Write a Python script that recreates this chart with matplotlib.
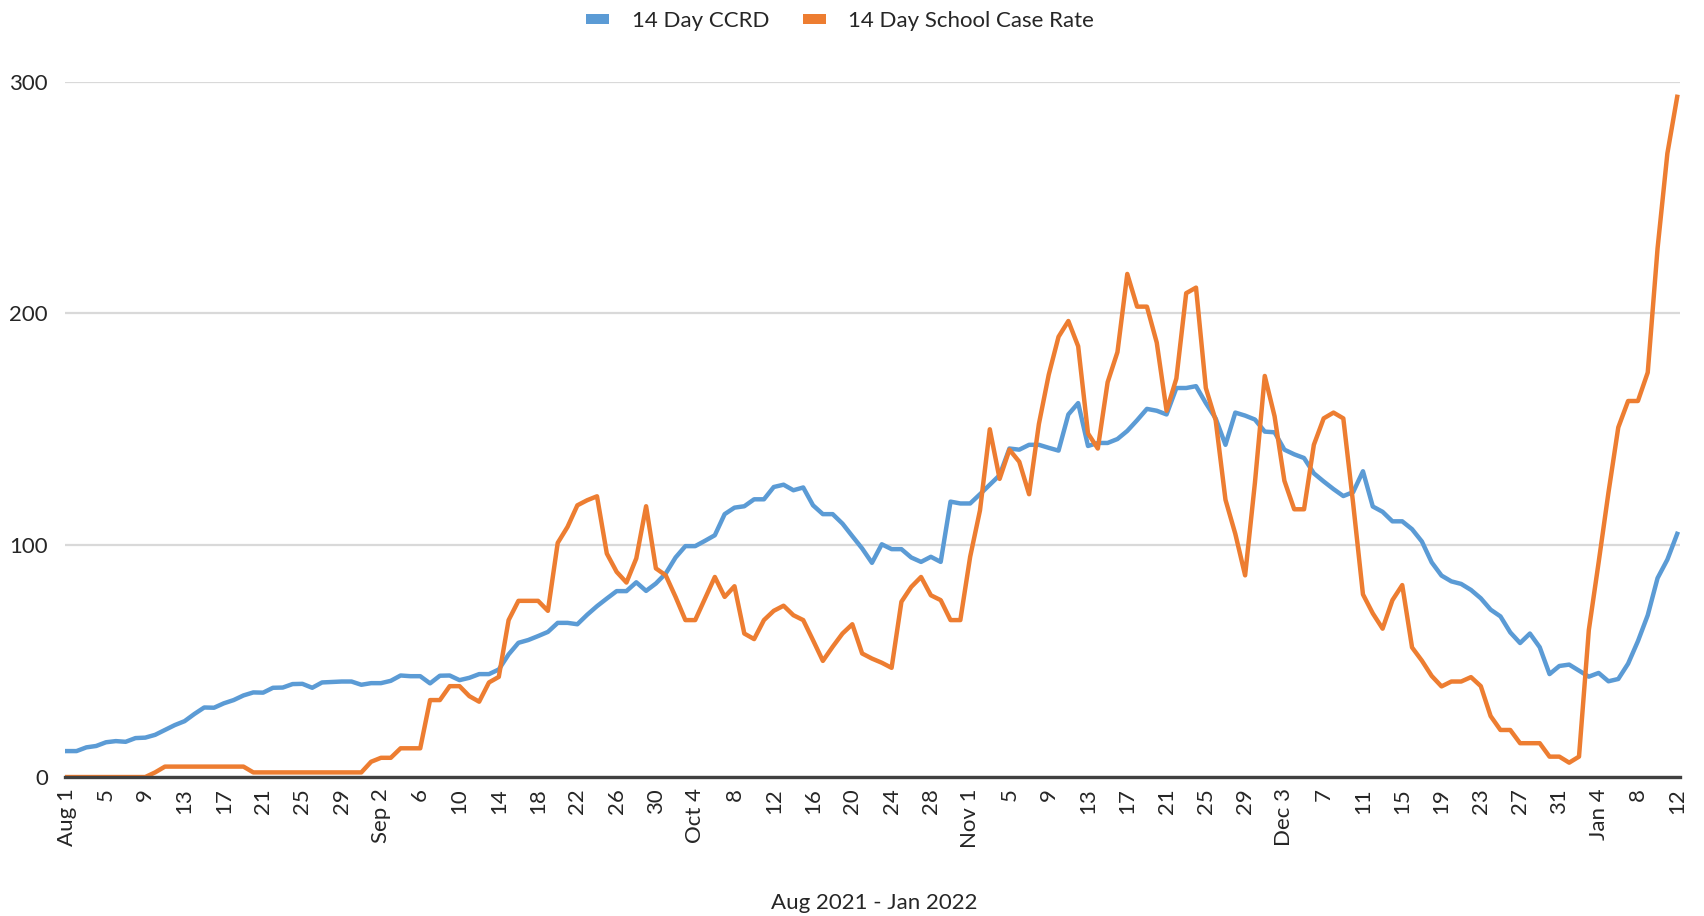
import matplotlib
matplotlib.use("Agg")
import matplotlib.pyplot as plt
from matplotlib.patches import Patch
import pandas as pd

plt.rcParams['font.family'] = ['Lato', 'DejaVu Sans']

dates = pd.date_range("2021-08-01", "2022-01-12", freq="D")

ccrd = [
    11.2, 11.2, 12.8, 13.4, 15.0, 15.5, 15.2, 16.8, 17.0, 18.2,
    20.3, 22.4, 24.1, 27.2, 30.0, 29.9, 31.8, 33.2, 35.2, 36.5,
    36.4, 38.5, 38.6, 40.1, 40.2, 38.5, 40.8, 41.0, 41.2, 41.2,
    39.8, 40.5, 40.5, 41.5, 43.8, 43.5, 43.5, 40.4, 43.7, 43.8,
    41.8, 42.8, 44.4, 44.4, 46.4, 52.9, 57.9, 59.1, 60.8, 62.6,
    66.5, 66.5, 65.9, 70.0, 73.7, 77.0, 80.2, 80.2, 84.0, 80.3,
    83.5, 87.8, 94.7, 99.6, 99.6, 101.9, 104.3, 113.4, 116.2, 116.8,
    119.8, 119.8, 125.1, 126.1, 123.7, 124.9, 117.2, 113.4, 113.4, 109.3,
    103.9, 98.6, 92.4, 100.4, 98.3, 98.3, 94.7, 92.8, 95.0, 92.8,
    118.8, 118.0, 118.0, 122.0, 126.1, 130.2, 141.7, 141.2, 143.3, 143.3,
    142.0, 140.8, 156.4, 161.3, 142.8, 144.1, 144.1, 145.8, 149.3, 153.9,
    158.8, 158.0, 156.4, 167.8, 167.8, 168.6, 161.3, 154.7, 143.3, 157.2,
    155.9, 154.2, 149.0, 148.7, 141.2, 139.2, 137.6, 131.0, 127.5, 124.2,
    121.2, 122.9, 131.9, 116.7, 114.4, 110.3, 110.3, 106.9, 101.6, 92.6,
    86.9, 84.4, 83.3, 80.7, 77.1, 72.2, 69.3, 62.4, 57.8, 61.9,
    56.0, 44.4, 47.9, 48.5, 45.9, 43.3, 44.9, 41.3, 42.3, 48.9,
    58.6, 69.8, 85.8, 93.8, 104.9,
]

school = [
    0, 0, 0, 0, 0, 0, 0, 0, 0, 2.0,
    4.5, 4.5, 4.5, 4.5, 4.5, 4.5, 4.5, 4.5, 4.5, 2.0,
    2.0, 2.0, 2.0, 2.0, 2.0, 2.0, 2.0, 2.0, 2.0, 2.0,
    2.0, 6.6, 8.3, 8.3, 12.4, 12.4, 12.4, 33.2, 33.2, 39.2,
    39.2, 34.9, 32.5, 40.8, 43.2, 67.7, 76.0, 76.0, 76.0, 71.7,
    101.0, 107.9, 117.2, 119.4, 121.1, 96.4, 88.5, 83.9, 94.3, 116.8,
    90.0, 87.0, 77.7, 67.7, 67.7, 77.0, 86.3, 77.7, 82.3, 61.9,
    59.5, 67.7, 71.7, 73.9, 69.8, 67.7, 59.0, 50.1, 56.2, 61.9,
    65.9, 53.3, 51.1, 49.3, 47.1, 75.6, 82.0, 86.3, 78.4, 76.3,
    67.7, 67.7, 95.0, 115.0, 150.0, 128.6, 141.2, 136.0, 122.0, 152.3,
    173.5, 189.9, 196.7, 185.8, 148.2, 141.7, 170.3, 183.3, 217.0, 202.9,
    202.9, 187.4, 158.0, 171.9, 208.7, 211.1, 167.8, 153.9, 119.6, 104.9,
    87.0, 127.0, 173.0, 155.6, 127.8, 115.5, 115.5, 143.3, 154.7, 157.2,
    154.7, 118.0, 78.8, 70.6, 64.0, 76.3, 82.8, 55.9, 50.2, 43.6,
    39.1, 41.2, 41.2, 43.1, 39.2, 26.3, 20.3, 20.3, 14.6, 14.6,
    14.6, 8.8, 8.8, 6.2, 8.8, 63.4, 92.6, 122.7, 150.8, 162.2,
    162.2, 174.5, 228.0, 269.0, 293.4,
]

series_names = ["14 Day CCRD", "14 Day School Case Rate"]
y_ticks = [0, 100, 200, 300]
x_title = "Aug 2021 - Jan 2022"

# tick labels every 4 days; month name on the first label of each month
tick_idx = list(range(0, len(dates), 4))
tick_labels = []
prev_month = None
for i in tick_idx:
    d = dates[i]
    if d.month != prev_month:
        tick_labels.append(f"{d.strftime('%b')} {d.day}")
        prev_month = d.month
    else:
        tick_labels.append(str(d.day))

BLUE = "#5B9BD5"
ORANGE = "#ED7D31"
TXT = "#262626"

fig = plt.figure(figsize=(17.04, 9.16), dpi=100)
ax = fig.add_axes([0.038, 0.1517, 0.948, 0.7593])

x = list(range(len(dates)))
ax.plot(x, ccrd, color=BLUE, lw=3.2, solid_joinstyle="round", zorder=3)
ax.plot(x, school, color=ORANGE, lw=3.2, solid_joinstyle="round", zorder=4)

ax.set_xlim(-0.2, len(dates) - 0.7)
ax.set_ylim(0, 300)
ax.set_yticks(y_ticks)
ax.set_yticklabels([str(v) for v in y_ticks], fontsize=16, color=TXT)
ax.set_xticks(tick_idx)
ax.set_xticklabels(tick_labels, rotation=90, fontsize=16, color=TXT)
ax.tick_params(axis="both", length=0)
ax.tick_params(axis="x", pad=8)
ax.tick_params(axis="y", pad=12)

ax.grid(axis="y", color="#D9D9D9", lw=1.6, zorder=0)
ax.set_axisbelow(True)
for s in ["top", "right", "left"]:
    ax.spines[s].set_visible(False)
ax.spines["bottom"].set_color("#404040")
ax.spines["bottom"].set_linewidth(2.4)
ax.spines["bottom"].set_zorder(5)

fig.text(0.513, 0.0145, x_title, ha="center", va="center", fontsize=16, color=TXT)

handles = [Patch(facecolor=BLUE, edgecolor="none"),
           Patch(facecolor=ORANGE, edgecolor="none")]
leg = fig.legend(handles, series_names, loc="upper center", bbox_to_anchor=(0.493, 1.01),
                 ncol=2, frameon=False, fontsize=16, handlelength=1.05, handleheight=0.36,
                 handletextpad=1.0, columnspacing=1.5)
for t in leg.get_texts():
    t.set_color(TXT)

fig.savefig("out.png", dpi=100)
